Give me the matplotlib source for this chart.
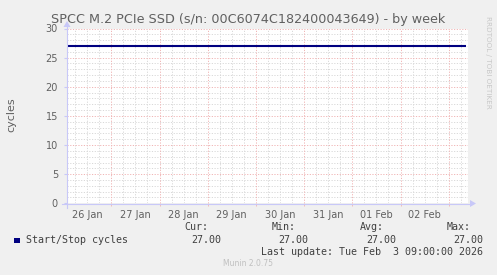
import matplotlib
matplotlib.use("Agg")
import matplotlib.pyplot as plt
from matplotlib.lines import Line2D
from matplotlib.patches import Rectangle, Polygon
import numpy as np

W, H = 497, 275
DPI = 100

# ---- data (days relative to 26 Jan 00:00) ----
title = "SPCC M.2 PCIe SSD (s/n: 00C6074C182400043649) - by week"
y_label = "cycles"
series_name = "Start/Stop cycles"
times = [-0.92, 0.0, 1.0, 2.0, 3.0, 4.0, 5.0, 6.0, 7.0, 7.36]
values = [27.0, 27.0, 27.0, 27.0, 27.0, 27.0, 27.0, 27.0, 27.0, 27.0]
tick_labels = ["26 Jan", "27 Jan", "28 Jan", "29 Jan", "30 Jan", "31 Jan", "01 Feb", "02 Feb"]
y_ticks = [0, 5, 10, 15, 20, 25, 30]
stat_heads = ["Cur:", "Min:", "Avg:", "Max:"]
stat_vals = ["27.00", "27.00", "27.00", "27.00"]
last_update = "Last update: Tue Feb  3 09:00:00 2026"
footer = "Munin 2.0.75"
side_text = "RRDTOOL / TOBI OETIKER"

x_min, x_max = -0.919, 7.40
y_min, y_max = 0, 30

line_color = "#000080"
axis_color = "#C8C8F8"
minor_color = "#D8D8D8"
major_color = "#F0B4B4"
text_color = "#606060"
legend_color = "#404040"

def fx(px):
    return px / W

def fy(py):
    return 1 - py / H

fig = plt.figure(figsize=(W / DPI, H / DPI), dpi=DPI, facecolor="#F0F0F0")
left, right, top, bottom = 67, 468, 28.5, 203.3
ax = fig.add_axes([fx(left), fy(bottom), fx(right) - fx(left), fy(top) - fy(bottom)])
ax.set_facecolor("white")
ax.set_xlim(x_min, x_max)
ax.set_ylim(y_min, y_max)
for s in ax.spines.values():
    s.set_visible(False)

# grid
dots = (0, (1.2, 1.6))
for m in np.arange(-0.75, x_max, 0.25):
    if abs(m - round(m)) > 1e-6:
        ax.axvline(m, color=minor_color, lw=0.7, ls=dots, zorder=1)
for d in range(0, 8):
    ax.axvline(d, color=major_color, lw=0.7, ls=dots, zorder=1.5)
for v in range(1, 31):
    if v % 5:
        ax.axhline(v, color=minor_color, lw=0.7, ls=dots, zorder=1)
for v in y_ticks[1:]:
    ax.axhline(v, color=major_color, lw=0.7, ls=dots, zorder=1.5)

# data
ax.plot(times, values, color=line_color, lw=1.5, zorder=3, solid_capstyle="butt")

# ticks
ax.set_yticks(y_ticks)
ax.set_yticklabels([str(t) for t in y_ticks])
ax.set_xticks([i - 0.5 for i in range(len(tick_labels))])
ax.set_xticklabels(tick_labels)
ax.tick_params(axis="y", length=2, color=axis_color, pad=4.5, labelsize=7, labelcolor=text_color)
ax.tick_params(axis="x", length=0, pad=4.5, labelsize=7, labelcolor=text_color)
ax.set_xticks(range(0, 8), minor=True)
ax.tick_params(axis="x", which="minor", length=2, color=major_color, direction="out")

# axes lines with arrows (pixel coordinates)
fig.add_artist(Line2D([fx(62), fx(471)], [fy(203.5), fy(203.5)], color=axis_color, lw=0.8))
fig.add_artist(Line2D([fx(67), fx(67)], [fy(208), fy(26)], color=axis_color, lw=0.8))
fig.add_artist(Polygon([[fx(470), fy(200)], [fx(476), fy(203.5)], [fx(470), fy(207)]],
                       closed=True, color=axis_color, lw=0))
fig.add_artist(Polygon([[fx(63.5), fy(27)], [fx(67), fy(21)], [fx(70.5), fy(27)]],
                       closed=True, color=axis_color, lw=0))

# titles
fig.text(fx(248.5), fy(19.5), title, ha="center", va="center", fontsize=9.15, color=text_color)
fig.text(fx(11), fy(114.5), y_label, ha="center", va="center", rotation=90, fontsize=8, color=text_color)
fig.text(fx(488), fy(16), side_text, ha="center", va="top", rotation=-90, fontsize=5.2, color="#C8C8C8")

# legend
mono = "DejaVu Sans Mono"
fig.add_artist(Rectangle((fx(14), fy(242.5)), fx(20) - fx(14), fy(237.5) - fy(242.5), color=line_color, lw=0))
fig.text(fx(26.5), fy(240), series_name, ha="left", va="center", fontsize=7.2, family=mono, color=legend_color)
head_x = [208.5, 296, 383.5, 470.5]
val_x = [221, 308.5, 396, 483]
for hx, hd in zip(head_x, stat_heads):
    fig.text(fx(hx), fy(227.5), hd, ha="right", va="center", fontsize=7.2, family=mono, color=legend_color)
for vx, vv in zip(val_x, stat_vals):
    fig.text(fx(vx), fy(240), vv, ha="right", va="center", fontsize=7.2, family=mono, color=legend_color)
fig.text(fx(483), fy(252), last_update, ha="right", va="center", fontsize=7.2, family=mono, color=legend_color)
fig.text(fx(248), fy(264), footer, ha="center", va="center", fontsize=5.5, color="#C0C0C0")

fig.savefig("out.png", dpi=DPI, facecolor=fig.get_facecolor())
